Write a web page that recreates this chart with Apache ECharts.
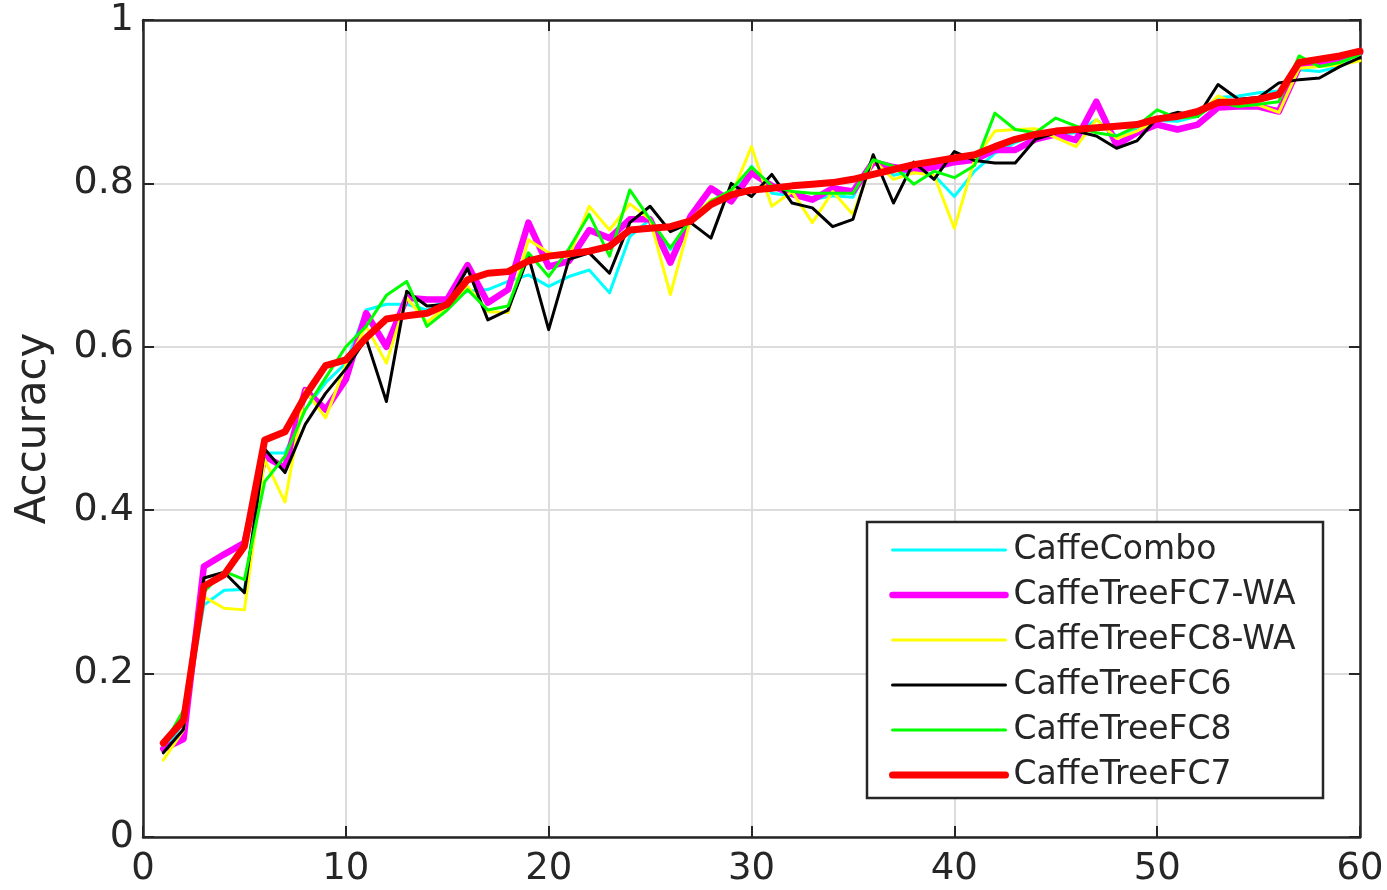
<!DOCTYPE html>
<html>
<head>
<meta charset="utf-8">
<script src="https://cdn.jsdelivr.net/npm/echarts@6/dist/echarts.min.js"></script>
<style>
  html, body { margin: 0; padding: 0; background: #ffffff; }
  #chart { width: 1387px; height: 890px; }
</style>
</head>
<body>
<div id="chart"></div>
<script>
// Epoch index 1..60
const epochs = [1,2,3,4,5,6,7,8,9,10,11,12,13,14,15,16,17,18,19,20,21,22,23,24,25,26,27,28,29,30,
  31,32,33,34,35,36,37,38,39,40,41,42,43,44,45,46,47,48,49,50,51,52,53,54,55,56,57,58,59,60];

const xTicks = [0, 10, 20, 30, 40, 50, 60];
const yTicks = [0, 0.2, 0.4, 0.6, 0.8, 1];

const seriesNames = ['CaffeCombo', 'CaffeTreeFC7-WA', 'CaffeTreeFC8-WA', 'CaffeTreeFC6', 'CaffeTreeFC8', 'CaffeTreeFC7'];

const caffeCombo = [0.105,0.14,0.284,0.302,0.303,0.47,0.47,0.523,0.556,0.58,
  0.645,0.652,0.652,0.645,0.658,0.668,0.67,0.68,0.688,0.674,
  0.686,0.694,0.666,0.735,0.756,0.719,0.756,0.776,0.782,0.821,
  0.788,0.785,0.78,0.785,0.783,0.831,0.81,0.815,0.81,0.784,
  0.815,0.837,0.85,0.86,0.86,0.862,0.878,0.858,0.866,0.877,
  0.876,0.882,0.905,0.907,0.911,0.913,0.939,0.937,0.943,0.964];

const treeFC7WA = [0.108,0.12,0.331,0.346,0.36,0.466,0.452,0.547,0.523,0.56,
  0.641,0.6,0.66,0.658,0.658,0.70,0.654,0.67,0.752,0.698,
  0.705,0.743,0.733,0.756,0.756,0.703,0.76,0.794,0.778,0.813,
  0.797,0.787,0.78,0.794,0.79,0.826,0.82,0.815,0.82,0.826,
  0.829,0.841,0.841,0.854,0.86,0.853,0.90,0.847,0.862,0.872,
  0.866,0.872,0.893,0.894,0.894,0.888,0.943,0.947,0.952,0.96];

const treeFC8WA = [0.094,0.131,0.294,0.28,0.278,0.462,0.41,0.547,0.513,0.578,
  0.625,0.58,0.66,0.63,0.65,0.674,0.643,0.642,0.731,0.715,
  0.71,0.772,0.743,0.775,0.756,0.664,0.756,0.78,0.785,0.845,
  0.772,0.79,0.752,0.79,0.762,0.829,0.805,0.813,0.81,0.745,
  0.829,0.864,0.866,0.867,0.856,0.845,0.878,0.855,0.864,0.878,
  0.88,0.882,0.907,0.896,0.896,0.887,0.941,0.943,0.945,0.95];

const treeFC6 = [0.103,0.132,0.317,0.324,0.299,0.475,0.446,0.505,0.543,0.573,
  0.61,0.533,0.668,0.65,0.652,0.696,0.633,0.645,0.711,0.621,
  0.707,0.715,0.69,0.752,0.772,0.741,0.752,0.733,0.80,0.784,
  0.811,0.776,0.77,0.747,0.756,0.835,0.776,0.826,0.805,0.839,
  0.828,0.825,0.825,0.854,0.862,0.864,0.858,0.843,0.852,0.88,
  0.887,0.882,0.921,0.903,0.905,0.923,0.927,0.929,0.943,0.954];

const treeFC8 = [0.112,0.155,0.30,0.325,0.315,0.435,0.466,0.523,0.562,0.60,
  0.625,0.663,0.68,0.625,0.645,0.67,0.645,0.65,0.715,0.686,
  0.72,0.762,0.711,0.792,0.756,0.721,0.756,0.778,0.792,0.82,
  0.797,0.79,0.788,0.788,0.788,0.829,0.821,0.799,0.815,0.807,
  0.822,0.886,0.866,0.862,0.88,0.87,0.862,0.858,0.87,0.89,
  0.88,0.882,0.90,0.894,0.897,0.90,0.956,0.943,0.948,0.958];

const treeFC7 = [0.115,0.143,0.307,0.321,0.356,0.486,0.496,0.54,0.577,0.584,
  0.611,0.634,0.638,0.641,0.652,0.682,0.69,0.692,0.705,0.711,
  0.714,0.717,0.723,0.743,0.745,0.747,0.754,0.774,0.786,0.792,
  0.794,0.797,0.799,0.801,0.805,0.811,0.817,0.823,0.827,0.831,
  0.835,0.845,0.854,0.86,0.864,0.866,0.868,0.87,0.872,0.879,
  0.882,0.888,0.899,0.9,0.903,0.909,0.948,0.952,0.956,0.962];

const seriesValues = [caffeCombo, treeFC7WA, treeFC8WA, treeFC6, treeFC8, treeFC7];
const seriesColors = ['#00ffff', '#ff00ff', '#ffff00', '#000000', '#00ff00', '#ff0000'];
const seriesWidths = [3, 6.5, 3, 3, 3, 7];

const FONT = 'DejaVu Sans';
const INK = '#262626';

const chart = echarts.init(document.getElementById('chart'), null, { renderer: 'canvas' });

const series = seriesNames.map((name, k) => ({
  name: name,
  type: 'line',
  xAxisIndex: 0,
  yAxisIndex: 0,
  data: epochs.map((e, i) => [e, seriesValues[k][i]]),
  symbol: 'none',
  showSymbol: false,
  smooth: false,
  animation: false,
  z: 2,
  lineStyle: { color: seriesColors[k], width: seriesWidths[k], join: 'round', cap: 'round' },
  itemStyle: { color: seriesColors[k] }
}));

const boxAxis = {
  axisLine: { show: true, onZero: false, lineStyle: { color: INK, width: 2.5 } },
  axisTick: { show: true, inside: true, length: 11, lineStyle: { color: INK, width: 2 } },
  axisLabel: { show: false },
  splitLine: { show: false }
};

chart.setOption({
  animation: false,
  backgroundColor: '#ffffff',
  grid: { left: 143, right: 27, top: 20, bottom: 53, containLabel: false },
  xAxis: [
    {
      type: 'value', min: 0, max: 60, interval: 10, position: 'bottom',
      axisLine: { show: true, onZero: false, lineStyle: { color: INK, width: 2.5 } },
      axisTick: { show: true, inside: true, length: 11, lineStyle: { color: INK, width: 2 } },
      axisLabel: {
        show: true, margin: 14, color: INK, fontFamily: FONT, fontSize: 37,
        formatter: v => (xTicks.indexOf(v) >= 0 ? String(v) : '')
      },
      splitLine: { show: true, lineStyle: { color: '#dcdcdc', width: 2 } }
    },
    Object.assign({ type: 'value', min: 0, max: 60, interval: 10, position: 'top' }, boxAxis)
  ],
  yAxis: [
    {
      type: 'value', min: 0, max: 1, interval: 0.2, position: 'left',
      name: 'Accuracy', nameLocation: 'middle', nameGap: 88, nameRotate: 90,
      nameTextStyle: { color: INK, fontFamily: FONT, fontSize: 42 },
      axisLine: { show: true, onZero: false, lineStyle: { color: INK, width: 2.5 } },
      axisTick: { show: true, inside: true, length: 11, lineStyle: { color: INK, width: 2 } },
      axisLabel: {
        show: true, margin: 9, color: INK, fontFamily: FONT, fontSize: 38,
        formatter: v => {
          const t = yTicks.find(y => Math.abs(y - v) < 1e-9);
          return t === undefined ? '' : String(t);
        }
      },
      splitLine: { show: true, lineStyle: { color: '#dcdcdc', width: 2 } }
    },
    Object.assign({ type: 'value', min: 0, max: 1, interval: 0.2, position: 'right' }, boxAxis)
  ],
  legend: {
    show: true,
    orient: 'vertical',
    left: 889,
    top: 530,
    z: 10,
    padding: 0,
    itemGap: 5,
    itemWidth: 113,
    itemHeight: 14,
    selectedMode: false,
    itemStyle: { opacity: 0 },
    data: seriesNames.map((name, k) => ({
      name: name,
      itemStyle: { opacity: 0 },
      lineStyle: { color: seriesColors[k], width: seriesWidths[k] }
    })),
    textStyle: { color: INK, fontFamily: FONT, fontSize: 33, lineHeight: 40, padding: [0, 0, 0, 3] }
  },
  graphic: {
    elements: [
      {
        type: 'rect',
        z: 5,
        shape: { x: 867, y: 522, width: 456, height: 276 },
        style: { fill: '#ffffff', stroke: INK, lineWidth: 2.5 }
      }
    ]
  },
  series: series
});
</script>
</body>
</html>
